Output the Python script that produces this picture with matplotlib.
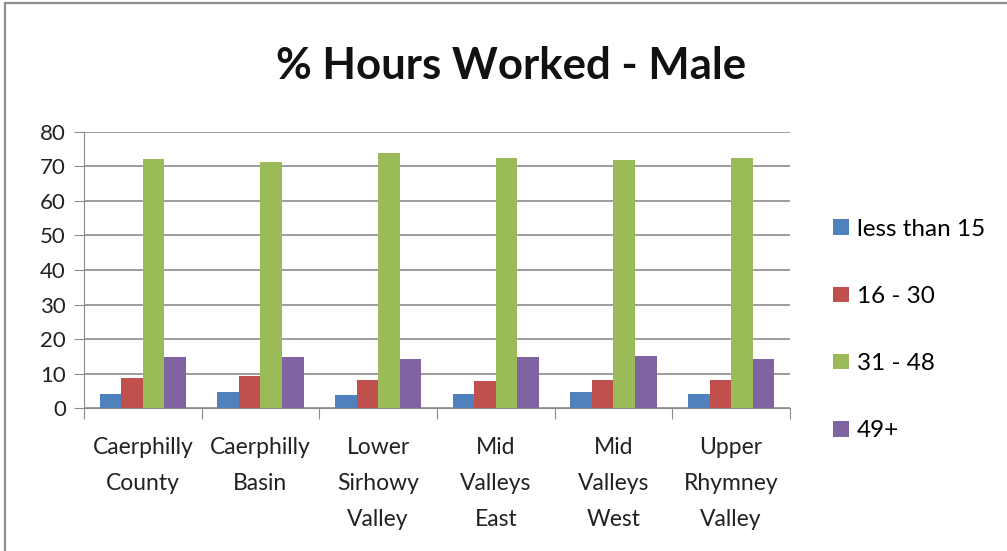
import matplotlib
matplotlib.use("Agg")
import matplotlib.pyplot as plt
import numpy as np
from matplotlib.patches import Rectangle

categories = ["Caerphilly\nCounty", "Caerphilly\nBasin", "Lower\nSirhowy\nValley",
              "Mid\nValleys\nEast", "Mid\nValleys\nWest", "Upper\nRhymney\nValley"]
series_names = ["less than 15", "16 - 30", "31 - 48", "49+"]
less_than_15 = [4.1, 4.6, 3.8, 4.1, 4.6, 4.1]
h16_30 = [8.7, 9.4, 8.2, 7.8, 8.2, 8.2]
h31_48 = [72.1, 71.3, 73.7, 72.5, 71.7, 72.5]
h49_plus = [14.7, 14.7, 14.4, 14.7, 15.1, 14.4]
yticks = [0, 10, 20, 30, 40, 50, 60, 70, 80]
colors = ["#4F81BD", "#C0504D", "#9BBB59", "#8064A2"]

plt.rcParams['font.family'] = ['Lato', 'DejaVu Sans']

fig = plt.figure(figsize=(10.07, 5.51), dpi=100)
ax = fig.add_axes([0.0834, 0.259, 0.7011, 0.502])

data = [less_than_15, h16_30, h31_48, h49_plus]
x = np.arange(len(categories))
bw = 0.184
for i, (vals, name, c) in enumerate(zip(data, series_names, colors)):
    ax.bar(x + (i - 1.5) * bw, vals, width=bw, color=c, label=name, zorder=3)

ax.set_xlim(-0.5, len(categories) - 0.5)
ax.set_ylim(0, 80)
ax.set_yticks(yticks)
ax.set_yticklabels([str(t) for t in yticks], fontsize=16, color="#222222")
ax.yaxis.grid(True, color="#8c8c8c", linewidth=1.2, zorder=0)
ax.set_axisbelow(True)
for s in ["top", "right"]:
    ax.spines[s].set_visible(False)
ax.spines["left"].set_color("#8c8c8c")
ax.spines["bottom"].set_color("#8c8c8c")
ax.tick_params(axis="y", length=7, color="#8c8c8c", pad=6)

ax.set_xticks(np.arange(-0.5, len(categories), 1.0))
ax.set_xticklabels([])
ax.tick_params(axis="x", length=8, color="#8c8c8c")
ax.set_xticks(x, minor=True)
ax.set_xticklabels(categories, minor=True, fontsize=16.5, color="#222222", linespacing=1.88)
ax.tick_params(axis="x", which="minor", length=0, pad=21)

fig.text(0.508, 0.88, "% Hours Worked - Male", ha="center", va="center",
         fontsize=31.5, fontweight="bold", color="#111111")

fig.legend(loc="center left", bbox_to_anchor=(0.818, 0.401), frameon=False,
           fontsize=17.5, labelspacing=1.9, handlelength=0.62, handleheight=0.62,
           handletextpad=0.33, borderaxespad=0)

fig.patches.append(Rectangle((5 / 1007, -0.05), 1.2, 1.0 - 3 / 551 + 0.05,
                             transform=fig.transFigure, fill=False,
                             edgecolor="#8c8c8c", linewidth=1.6))

fig.savefig("out.png", dpi=100)
